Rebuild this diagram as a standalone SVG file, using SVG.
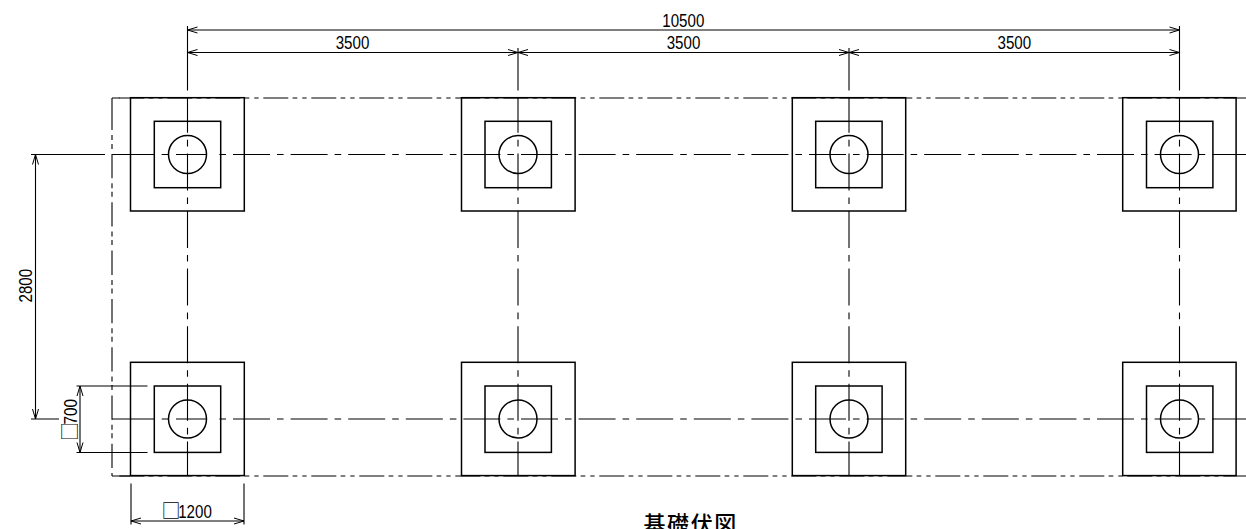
<svg xmlns="http://www.w3.org/2000/svg" width="1246" height="529" viewBox="0 0 1246 529">
<style>
.bg{fill:#fff}
.o{fill:none;stroke:#000;stroke-width:1.5}
.l{fill:none;stroke:#000;stroke-width:1.1}
.cx{stroke-dasharray:6.6 7 37 7}
.cy{stroke-dasharray:37 7 6.6 7;stroke-dashoffset:2.2}
.chx{stroke-dasharray:25 4.3 4.7 5 4.3 4.7}
.chy{stroke-dasharray:24.3 5 5 3.5 5 5.5}
.d{marker-start:url(#a);marker-end:url(#a)}
text{font-family:"Liberation Sans","Noto Sans CJK JP",sans-serif;font-size:18px;fill:#000}
.b{font-family:"Noto Sans CJK JP",sans-serif;font-size:19px}
.t{font-family:"Noto Sans CJK JP",sans-serif;font-size:22px;font-weight:500;letter-spacing:1.6px}
</style>
<defs>
<marker id="a" markerUnits="userSpaceOnUse" viewBox="-11 -4 12 8" markerWidth="12" markerHeight="8" refX="0" refY="0" orient="auto-start-reverse">
<path d="M-10,-3L0,0L-10,3" fill="none" stroke="#000" stroke-width="1"/>
</marker>
</defs>
<rect class="bg" width="1246" height="529"/>
<g id="connectors">
<g id="grid">
<path class="l" d="M112 98H120M112 98V130M112 135V140M112 144V149M112 476H130"/>
<line class="l chx" x1="119.3" y1="98" x2="1246" y2="98"/>
<line class="l chx" x1="119.3" y1="476" x2="1246" y2="476"/>
<line class="l chy" x1="112" y1="154" x2="112" y2="476"/>
<path class="l" d="M112 154.5H154.5M161.7 154.5H168.3M176 154.5H206.5M112 419H154.5M161.7 419H168.3M176 419H206.5"/>
<line class="l cx" x1="219.4" y1="154.5" x2="1246" y2="154.5"/>
<line class="l cx" x1="219.4" y1="419" x2="1246" y2="419"/>
<line class="l cy" x1="187.5" y1="98" x2="187.5" y2="475.5"/>
<line class="l cy" x1="518" y1="98" x2="518" y2="475.5"/>
<line class="l cy" x1="849" y1="98" x2="849" y2="475.5"/>
<line class="l cy" x1="1179.5" y1="98" x2="1179.5" y2="475.5"/>
</g>
<g id="dimensions">
<path class="l" d="M187.5 26V90.5M518 48V90.5M849 48V90.5M1179.5 26V90.5"/>
<line class="l d" x1="187.5" y1="30" x2="1179.5" y2="30"/>
<line class="l d" x1="187.5" y1="52.5" x2="518" y2="52.5"/>
<line class="l d" x1="518" y1="52.5" x2="849" y2="52.5"/>
<line class="l d" x1="849" y1="52.5" x2="1179.5" y2="52.5"/>
<path class="l" d="M31 154.5H105M31 419H59M76.5 386H147.5M76.5 452.5H147.5M131 483.5V524.5M244 483.5V524.5"/>
<line class="l d" x1="35.5" y1="154.5" x2="35.5" y2="419"/>
<line class="l d" x1="80" y1="386" x2="80" y2="452.5"/>
<line class="l d" x1="131" y1="521" x2="244" y2="521"/>
</g>
</g>
<g id="footing-1"><rect class="o" x="130.5" y="97.7" width="113.8" height="113.3"/><rect class="o" x="154.3" y="121.3" width="66.4" height="66.4"/><circle class="o" cx="187.5" cy="154.5" r="19"/></g>
<g id="footing-2"><rect class="o" x="461.5" y="97.7" width="113.6" height="113.3"/><rect class="o" x="485" y="121.3" width="66.4" height="66.4"/><circle class="o" cx="518" cy="154.5" r="19"/></g>
<g id="footing-3"><rect class="o" x="792.3" y="97.7" width="113.4" height="113.3"/><rect class="o" x="815.7" y="121.3" width="66.4" height="66.4"/><circle class="o" cx="849" cy="154.5" r="19"/></g>
<g id="footing-4"><rect class="o" x="1122.7" y="97.7" width="113.4" height="113.3"/><rect class="o" x="1146.5" y="121.3" width="66.4" height="66.4"/><circle class="o" cx="1179.5" cy="154.5" r="19"/></g>
<g id="footing-5"><rect class="o" x="130.5" y="362.3" width="113.8" height="113.3"/><rect class="o" x="154.3" y="386" width="66.4" height="66.4"/><circle class="o" cx="187.5" cy="419" r="19"/></g>
<g id="footing-6"><rect class="o" x="461.5" y="362.3" width="113.6" height="113.3"/><rect class="o" x="485" y="386" width="66.4" height="66.4"/><circle class="o" cx="518" cy="419" r="19"/></g>
<g id="footing-7"><rect class="o" x="792.3" y="362.3" width="113.4" height="113.3"/><rect class="o" x="815.7" y="386" width="66.4" height="66.4"/><circle class="o" cx="849" cy="419" r="19"/></g>
<g id="footing-8"><rect class="o" x="1122.7" y="362.3" width="113.4" height="113.3"/><rect class="o" x="1146.5" y="386" width="66.4" height="66.4"/><circle class="o" cx="1179.5" cy="419" r="19"/></g>
<g id="labels">
<text x="662.3" y="26.5" textLength="42" lengthAdjust="spacingAndGlyphs">10500</text>
<text x="335.7" y="48.5" textLength="33.6" lengthAdjust="spacingAndGlyphs">3500</text>
<text x="666.7" y="48.5" textLength="33.6" lengthAdjust="spacingAndGlyphs">3500</text>
<text x="997.5" y="48.5" textLength="33.6" lengthAdjust="spacingAndGlyphs">3500</text>
<text transform="translate(32 302.5) rotate(-90)" textLength="33.6" lengthAdjust="spacingAndGlyphs">2800</text>
<text transform="translate(77 441) rotate(-90)"><tspan class="b" y="0">□</tspan><tspan x="16.5" y="0" textLength="25.5" lengthAdjust="spacingAndGlyphs">700</tspan></text>
<text x="161.5" y="517.5"><tspan class="b">□</tspan><tspan x="178.2" textLength="33.6" lengthAdjust="spacingAndGlyphs">1200</tspan></text>
<text class="t" x="643.5" y="532">基礎伏図</text>
</g>
</svg>
